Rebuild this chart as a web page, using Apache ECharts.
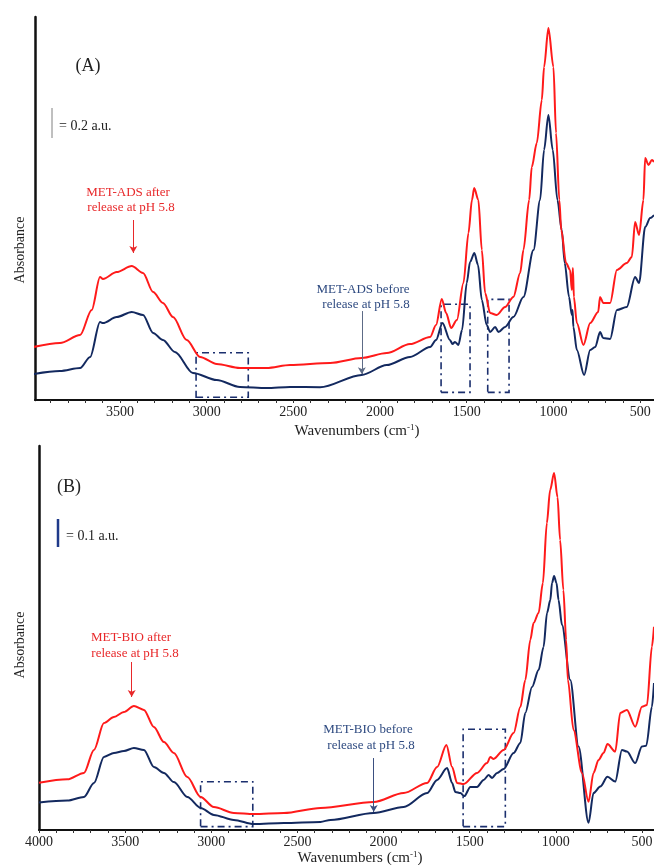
<!DOCTYPE html>
<html><head><meta charset="utf-8">
<script src="https://cdn.jsdelivr.net/npm/echarts@6/dist/echarts.min.js"></script>
<style>html,body{margin:0;padding:0;background:#fff}#c{width:654px;height:865px}</style>
</head><body><div id="c"></div>
<script>
// ---------- data ----------
const tickLabelsA = [3500, 3000, 2500, 2000, 1500, 1000, 500];
const tickLabelsB = [4000, 3500, 3000, 2500, 2000, 1500, 1000, 500];

// Panel A: MET-ADS  [wavenumber, absorbance]
const adsAfter = [[4000,0.353],[3846,0.380],[3730,0.433],[3663,0.600],[3615,0.820],[3598,0.807],[3519,0.853],[3432,0.893],[3367,0.847],[3309,0.720],[3252,0.647],[3194,0.553],[3115,0.400],[3038,0.287],[2942,0.240],[2808,0.213],[2654,0.213],[2519,0.233],[2288,0.247],[2106,0.280],[1961,0.313],[1827,0.373],[1711,0.420],[1677,0.500],[1644,0.673],[1619,0.580],[1590,0.480],[1557,0.533],[1519,0.780],[1490,1.113],[1470,1.333],[1457,1.413],[1433,1.333],[1413,1.000],[1394,0.713],[1365,0.580],[1327,0.567],[1279,0.620],[1231,0.687],[1192,0.847],[1173,1.000],[1140,1.333],[1125,1.553],[1096,1.713],[1067,2.000],[1054,2.220],[1029,2.480],[1000,2.220],[985,1.780],[966,1.333],[955,1.133],[927,0.913],[904,0.867],[894,0.733],[888,0.880],[882,0.687],[865,0.513],[827,0.367],[788,0.513],[742,0.587],[731,0.687],[713,0.647],[673,0.647],[634,0.867],[577,0.913],[548,0.953],[529,1.187],[506,1.100],[481,1.333],[471,1.613],[452,1.567],[432,1.600],[420,1.587]];
const adsBefore = [[4000,0.173],[3846,0.193],[3730,0.213],[3672,0.287],[3615,0.520],[3598,0.513],[3519,0.553],[3432,0.587],[3367,0.567],[3309,0.447],[3252,0.400],[3183,0.320],[3079,0.180],[2942,0.133],[2808,0.087],[2654,0.080],[2519,0.087],[2346,0.085],[2106,0.167],[1961,0.233],[1827,0.287],[1711,0.353],[1677,0.400],[1640,0.513],[1597,0.400],[1582,0.373],[1568,0.387],[1548,0.367],[1527,0.467],[1500,0.780],[1481,0.920],[1456,0.980],[1435,0.900],[1413,0.667],[1385,0.500],[1365,0.453],[1336,0.487],[1317,0.453],[1279,0.487],[1231,0.553],[1173,0.687],[1115,1.000],[1077,1.333],[1054,1.667],[1029,1.900],[1004,1.667],[977,1.333],[952,1.133],[935,0.913],[910,0.687],[894,0.567],[890,0.600],[885,0.487],[865,0.333],[823,0.167],[788,0.333],[759,0.353],[731,0.453],[713,0.413],[673,0.407],[634,0.600],[577,0.620],[529,0.820],[506,0.780],[471,1.153],[442,1.213],[420,1.233]];

// Panel B: MET-BIO  [wavenumber, absorbance]
const bioAfter = [[4000,0.169],[3835,0.181],[3739,0.204],[3681,0.286],[3623,0.382],[3565,0.404],[3507,0.421],[3449,0.443],[3391,0.429],[3333,0.368],[3275,0.314],[3217,0.275],[3139,0.189],[3062,0.118],[2985,0.082],[2869,0.061],[2753,0.057],[2579,0.061],[2366,0.079],[2057,0.100],[1883,0.132],[1747,0.168],[1689,0.225],[1635,0.304],[1602,0.225],[1573,0.168],[1535,0.164],[1457,0.204],[1399,0.239],[1380,0.261],[1361,0.254],[1303,0.286],[1245,0.346],[1206,0.439],[1177,0.536],[1148,0.679],[1129,0.739],[1100,0.775],[1075,0.882],[1052,1.096],[1033,1.214],[1010,1.275],[990,1.189],[975,1.036],[956,0.857],[940,0.679],[930,0.536],[897,0.357],[848,0.204],[810,0.101],[781,0.204],[752,0.250],[723,0.275],[700,0.307],[655,0.280],[626,0.418],[587,0.429],[539,0.369],[500,0.440],[471,0.446],[442,0.655],[430,0.726]];
const bioBefore = [[4000,0.098],[3835,0.105],[3739,0.118],[3681,0.168],[3623,0.261],[3565,0.275],[3507,0.282],[3449,0.293],[3391,0.286],[3333,0.225],[3275,0.204],[3217,0.171],[3139,0.118],[3062,0.079],[2985,0.054],[2869,0.036],[2753,0.021],[2579,0.025],[2366,0.029],[2308,0.036],[2057,0.061],[1883,0.082],[1747,0.132],[1689,0.179],[1631,0.221],[1602,0.168],[1583,0.136],[1554,0.132],[1531,0.121],[1496,0.154],[1457,0.154],[1419,0.179],[1390,0.196],[1370,0.186],[1341,0.204],[1303,0.218],[1245,0.275],[1206,0.311],[1177,0.418],[1138,0.511],[1100,0.571],[1071,0.654],[1051,0.775],[1032,0.821],[1022,0.882],[1010,0.907],[996,0.882],[984,0.821],[964,0.732],[916,0.536],[868,0.298],[810,0.026],[781,0.132],[742,0.155],[700,0.190],[655,0.173],[616,0.286],[587,0.280],[539,0.239],[500,0.298],[475,0.301],[442,0.440],[430,0.525]];

// highlighted regions [wnFrom, absFrom, wnTo, absTo]
const adsBoxes = [[3061,0.018,2760,0.315],[1648,0.051,1481,0.638],[1379,0.051,1256,0.671]];
const bioBoxes = [[3062,0.012,2759,0.1725],[1538,0.012,1293,0.36]];
// annotation arrows [wn, absFrom, absTo]
const adsAfterArrow = [3423, 1.20, 0.98];
const adsBeforeArrow = [2105, 0.593, 0.172];
const bioAfterArrow = [3462, 0.60, 0.475];
const bioBeforeArrow = [2057, 0.257, 0.064];

// ---------- chart ----------
const RED = '#ff1a1a', NAVY = '#13295f';
const FONT = 'Liberation Serif';
const minorA = [], minorB = [];
for (let w = 500; w <= 3900; w += 100) minorA.push(w);
for (let w = 500; w <= 4000; w += 100) minorB.push(w);

function xAx(gi, min, max, ticks, labels) {
  return {
    type: 'value', gridIndex: gi, min, max, inverse: true,
    axisLine: { show: true, onZero: false, lineStyle: { color: '#111', width: 2 } },
    axisTick: { show: true, customValues: ticks, length: 3, inside: false, lineStyle: { color: '#333', width: 1 } },
    axisLabel: { show: true, customValues: labels, formatter: v => String(v), hideOverlap: false,
      color: '#222', fontFamily: FONT, fontSize: 14, margin: 5 },
    splitLine: { show: false }
  };
}
function yAx(gi, max) {
  return {
    type: 'value', gridIndex: gi, min: 0, max,
    axisLine: { show: true, onZero: false, lineStyle: { color: '#111', width: 2.5 } },
    axisTick: { show: false }, axisLabel: { show: false }, splitLine: { show: false }
  };
}
function boxes(list) {
  return {
    silent: true,
    label: { show: false },
    itemStyle: { color: 'rgba(0,0,0,0)', borderColor: '#1b2f6e', borderWidth: 1.6, borderType: [7, 4, 2, 4] },
    data: list.map(b => [{ coord: [b[0], b[1]] }, { coord: [b[2], b[3]] }])
  };
}
function arrow(a, color) {
  return {
    silent: true, symbol: ['none', 'arrow'], symbolSize: [6, 7], precision: 4,
    label: { show: false },
    lineStyle: { color, width: 1, type: 'solid' },
    data: [[{ coord: [a[0], a[1]] }, { coord: [a[0], a[2]] }]]
  };
}
function line(data, color, idx, extra) {
  return Object.assign({
    type: 'line', xAxisIndex: idx, yAxisIndex: idx, data,
    symbol: 'none', showSymbol: false, smooth: 0.3, smoothMonotone: 'x',
    lineStyle: { color, width: 2 }, itemStyle: { color }, silent: true, clip: true
  }, extra || {});
}
function txt(text, x, y, size, color, align) {
  return { type: 'text', x, y, silent: true, z: 100,
    style: { text, fill: color, font: size + 'px "' + FONT + '"', textAlign: align || 'center', textVerticalAlign: 'middle' } };
}

const chart = echarts.init(document.getElementById('c'), null, { renderer: 'canvas' });
chart.setOption({
  animation: false,
  backgroundColor: '#fff',
  grid: [
    { left: 35, top: 17, width: 619, height: 383, containLabel: false, outerBoundsMode: 'none' },
    { left: 39, top: 446, width: 615, height: 384, containLabel: false, outerBoundsMode: 'none' }
  ],
  xAxis: [xAx(0, 420, 3990, minorA, tickLabelsA), xAx(1, 430, 4000, minorB, tickLabelsB)],
  yAxis: [yAx(0, 383 / 150), yAx(1, 384 / 280)],
  series: [
    line(adsBefore, NAVY, 0, { markArea: boxes(adsBoxes), markLine: arrow(adsBeforeArrow, '#5d6b86') }),
    line(adsAfter, RED, 0, { markLine: arrow(adsAfterArrow, '#e8282a') }),
    line(bioBefore, NAVY, 1, { markArea: boxes(bioBoxes), markLine: arrow(bioBeforeArrow, '#3b4f80') }),
    line(bioAfter, RED, 1, { markLine: arrow(bioAfterArrow, '#e8282a') })
  ],
  graphic: [
    // panel A
    txt('(A)', 88, 66, 18, '#222'),
    { type: 'line', silent: true, shape: { x1: 52, y1: 108, x2: 52, y2: 138 }, style: { stroke: '#808080', lineWidth: 1 } },
    txt('= 0.2 a.u.', 59, 126, 14, '#222', 'left'),
    txt('MET-ADS after', 128, 193, 13, '#e8282a'),
    txt('release at pH 5.8', 131, 208, 13, '#e8282a'),
    txt('MET-ADS before', 363, 290, 13, '#2e4a80'),
    txt('release at pH 5.8', 366, 305, 13, '#2e4a80'),
    { type: 'text', rotation: Math.PI / 2, x: 20, y: 250, silent: true,
      style: { text: 'Absorbance', fill: '#222', font: '14px "' + FONT + '"', textAlign: 'center', textVerticalAlign: 'middle' } },
    { type: 'text', x: 357, y: 431, silent: true,
      style: { text: 'Wavenumbers (cm{s|-1})', fill: '#222', font: '15px "' + FONT + '"', textAlign: 'center', textVerticalAlign: 'middle',
        rich: { s: { fontSize: 9, fontFamily: FONT, verticalAlign: 'top', lineHeight: 16 } } } },
    // panel B
    txt('(B)', 69, 487, 18, '#222'),
    { type: 'line', silent: true, shape: { x1: 58, y1: 519, x2: 58, y2: 547 }, style: { stroke: '#1f3a8a', lineWidth: 2.5 } },
    txt('= 0.1 a.u.', 66, 536, 14, '#222', 'left'),
    txt('MET-BIO after', 131, 638, 13, '#e8282a'),
    txt('release at pH 5.8', 135, 654, 13, '#e8282a'),
    txt('MET-BIO before', 368, 730, 13, '#2e4a80'),
    txt('release at pH 5.8', 371, 746, 13, '#2e4a80'),
    { type: 'text', rotation: Math.PI / 2, x: 20, y: 645, silent: true,
      style: { text: 'Absorbance', fill: '#222', font: '14px "' + FONT + '"', textAlign: 'center', textVerticalAlign: 'middle' } },
    { type: 'text', x: 360, y: 858, silent: true,
      style: { text: 'Wavenumbers (cm{s|-1})', fill: '#222', font: '15px "' + FONT + '"', textAlign: 'center', textVerticalAlign: 'middle',
        rich: { s: { fontSize: 9, fontFamily: FONT, verticalAlign: 'top', lineHeight: 16 } } } }
  ]
});
</script>
</body></html>
